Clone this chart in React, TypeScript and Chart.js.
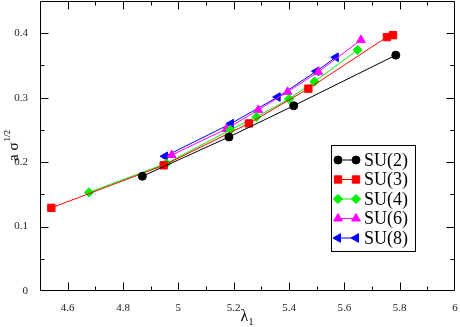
import React, { useEffect, useRef } from 'react';
import { Chart, registerables } from 'chart.js';
import { drawPoint } from 'chart.js/helpers';

Chart.register(...registerables);

// ---- data ----
const seriesLabels = ['SU(2)', 'SU(3)', 'SU(4)', 'SU(6)', 'SU(8)'];
const su2X = [4.87, 5.183, 5.417, 5.786];
const su2Y = [0.178, 0.239, 0.2875, 0.366];
const su3X = [4.541, 4.947, 5.255, 5.47, 5.754, 5.776];
const su3Y = [0.129, 0.195, 0.26, 0.314, 0.394, 0.397];
const su4X = [4.677, 4.957, 5.188, 5.282, 5.4, 5.492, 5.648];
const su4Y = [0.153, 0.198, 0.25, 0.27, 0.298, 0.325, 0.374];
const su6X = [4.976, 5.174, 5.289, 5.395, 5.506, 5.66];
const su6Y = [0.211, 0.2515, 0.281, 0.309, 0.34, 0.3895];
const su8X = [4.952, 5.19, 5.359, 5.499, 5.569];
const su8Y = [0.209, 0.2597, 0.301, 0.341, 0.3627];

const xMin = 4.5;
const xMax = 6;
const xStep = 0.1;
const yMin = 0;
const yMax = 0.45;
const yStep = 0.05;

const SERIF = '"Liberation Serif", "Times New Roman", serif';

const styles = [
  { color: '#000000', pointStyle: 'circle', radius: 4, rotation: 0 },
  { color: '#ff0000', pointStyle: 'rect', radius: 5.2, rotation: 0 },
  { color: '#00f000', pointStyle: 'rectRot', radius: 4.6, rotation: 0 },
  { color: '#ff00ff', pointStyle: 'triangle', radius: 5, rotation: 0 },
  { color: '#0000ff', pointStyle: 'triangle', radius: 5, rotation: -90 },
];

const xs = [su2X, su3X, su4X, su6X, su8X];
const ys = [su2Y, su3Y, su4Y, su6Y, su8Y];

const isMultiple = (v: number, m: number) => Math.abs(v / m - Math.round(v / m)) < 1e-6;
const fmt = (v: number) => String(Math.round(v * 10) / 10);

const framePlugin = {
  id: 'frameTicks',
  afterDatasetsDraw(chart: any) {
    const { ctx, chartArea: a } = chart;
    const L = Math.round(a.left) + 0.5;
    const R = Math.round(a.right) - 0.5;
    const T = Math.round(a.top) + 0.5;
    const B = Math.round(a.bottom) - 0.5;
    ctx.save();
    ctx.strokeStyle = '#000';
    ctx.lineWidth = 1;
    ctx.beginPath();
    ctx.rect(L, T, R - L, B - T);
    ctx.stroke();
    const ysc = chart.scales.y;
    ysc.ticks.forEach((t: any) => {
      const v = t.value;
      if (v <= yMin + 1e-9 || v >= yMax - 1e-9) return;
      const len = isMultiple(v, 0.1) ? 8 : 4;
      const p = Math.round(ysc.getPixelForValue(v)) + 0.5;
      ctx.beginPath();
      ctx.moveTo(L, p);
      ctx.lineTo(L + len, p);
      ctx.moveTo(R, p);
      ctx.lineTo(R - len, p);
      ctx.stroke();
    });
    const xsc = chart.scales.x;
    xsc.ticks.forEach((t: any) => {
      const v = t.value;
      if (v <= xMin + 1e-9 || v >= xMax - 1e-9) return;
      const len = isMultiple(v, 0.2) ? 8 : 4;
      const p = Math.round(xsc.getPixelForValue(v)) + 0.5;
      ctx.beginPath();
      ctx.moveTo(p, B);
      ctx.lineTo(p, B - len);
      ctx.moveTo(p, T);
      ctx.lineTo(p, T + len);
      ctx.stroke();
    });
    ctx.restore();
  },
  afterDraw(chart: any) {
    const { ctx, chartArea: a } = chart;
    ctx.save();
    ctx.fillStyle = '#000';
    ctx.textBaseline = 'alphabetic';
    // x title lambda_1
    ctx.font = `16px ${SERIF}`;
    ctx.textAlign = 'left';
    const cx = (a.left + a.right) / 2;
    const lw = ctx.measureText('λ').width;
    ctx.fillText('λ', cx - lw / 2 - 3, 321);
    ctx.font = `10px ${SERIF}`;
    ctx.fillText('1', cx + lw / 2 - 3, 325);
    // y title a sigma^{1/2}
    ctx.save();
    ctx.translate(18, 161);
    ctx.rotate(-Math.PI / 2);
    ctx.font = `15px ${SERIF}`;
    ctx.fillText('a σ', 0, 0);
    const w = ctx.measureText('a σ').width;
    ctx.font = `9px ${SERIF}`;
    ctx.fillText('1/2', w + 1, -8);
    ctx.restore();

    // legend
    const bx = 331.5, by = 145.5, bw = 84, bh = 106;
    ctx.fillStyle = '#fff';
    ctx.fillRect(bx, by, bw, bh);
    ctx.strokeStyle = '#000';
    ctx.lineWidth = 1;
    ctx.strokeRect(bx, by, bw, bh);
    seriesLabels.forEach((lab, i) => {
      const yy = 160 + i * 19.5;
      const s = styles[i];
      ctx.strokeStyle = s.color;
      ctx.fillStyle = s.color;
      ctx.lineWidth = 1;
      ctx.beginPath();
      ctx.moveTo(338, yy);
      ctx.lineTo(356, yy);
      ctx.stroke();
      const opt = { pointStyle: s.pointStyle, rotation: s.rotation, radius: s.radius, borderWidth: 1 };
      drawPoint(ctx, opt as any, 338, yy);
      drawPoint(ctx, opt as any, 356, yy);
      ctx.fillStyle = '#000';
      ctx.font = `18px ${SERIF}`;
      ctx.textAlign = 'left';
      ctx.textBaseline = 'middle';
      ctx.fillText(lab, 364, yy + 1);
    });
    ctx.restore();
  },
};

export default function App() {
  const ref = useRef<HTMLCanvasElement | null>(null);
  useEffect(() => {
    document.body.style.margin = '0';
    const canvas = ref.current;
    if (!canvas) return;
    const datasets = seriesLabels.map((lab, i) => ({
      label: lab,
      data: xs[i].map((x, j) => ({ x, y: ys[i][j] })),
      showLine: true,
      borderColor: styles[i].color,
      backgroundColor: styles[i].color,
      borderWidth: 1,
      pointStyle: styles[i].pointStyle as any,
      pointRotation: styles[i].rotation,
      pointRadius: styles[i].radius,
      pointBorderWidth: 1,
      pointBackgroundColor: styles[i].color,
      pointBorderColor: styles[i].color,
      tension: 0,
    }));
    const chart = new Chart(canvas, {
      type: 'scatter',
      data: { datasets },
      options: {
        animation: false,
        responsive: false,
        maintainAspectRatio: false,
        layout: { autoPadding: false, padding: { top: 1, right: 5, left: 0, bottom: 0 } },
        plugins: { legend: { display: false }, tooltip: { enabled: false } },
        scales: {
          x: {
            type: 'linear',
            min: xMin,
            max: xMax,
            grid: { display: false },
            border: { display: false },
            afterFit: (s: any) => {
              s.height = 36;
              s.paddingLeft = 0;
              s.paddingRight = 0;
            },
            ticks: {
              stepSize: xStep,
              autoSkip: false,
              maxRotation: 0,
              padding: 3,
              color: '#222',
              font: { family: SERIF, size: 11 },
              callback: (v: any) => (isMultiple(Number(v), 0.2) ? fmt(Number(v)) : ''),
            },
          },
          y: {
            type: 'linear',
            min: yMin,
            max: yMax,
            grid: { display: false },
            border: { display: false },
            afterFit: (s: any) => {
              s.width = 40;
              s.paddingTop = 0;
              s.paddingBottom = 0;
            },
            ticks: {
              stepSize: yStep,
              autoSkip: false,
              padding: 4,
              color: '#222',
              font: { family: SERIF, size: 11 },
              callback: (v: any) => (isMultiple(Number(v), 0.1) ? fmt(Number(v)) : ''),
            },
          },
        },
      },
      plugins: [framePlugin],
    });
    return () => chart.destroy();
  }, []);
  return (
    <div style={{ position: 'absolute', left: 0, top: 0, width: 460, height: 327, background: '#fff' }}>
      <canvas ref={ref} width={460} height={327} style={{ display: 'block' }} />
    </div>
  );
}
